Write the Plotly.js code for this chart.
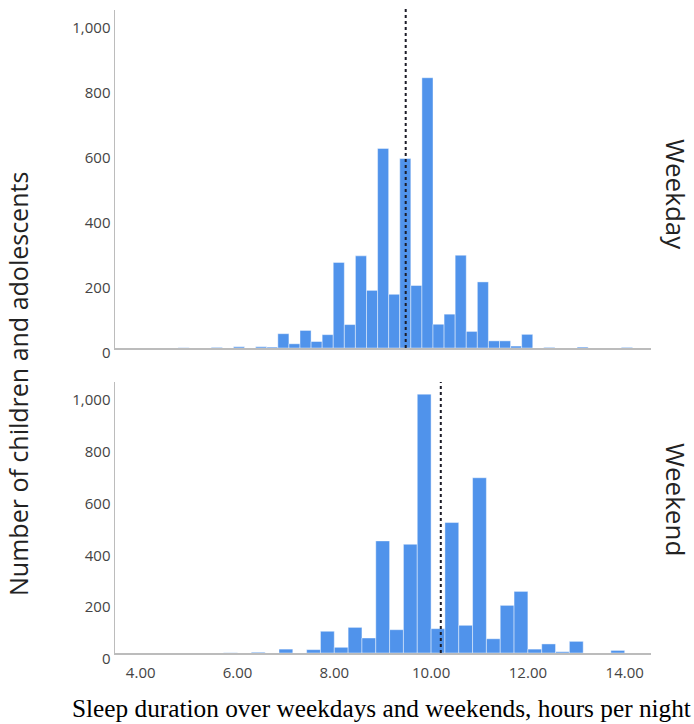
<!DOCTYPE html>
<html>
<head>
<meta charset="utf-8">
<script src="https://cdn.plot.ly/plotly-3.0.1.min.js"></script>
<style>html,body{margin:0;padding:0;background:#fff;}#chart{width:694px;height:724px;}</style>
</head>
<body>
<div id="chart"></div>
<script>
// ---- Data ----
// Weekday histogram: bins of equal width starting at weekdayBinStart (hours)
const weekdayBinStart = 4.772;
const weekdayBinWidth = 0.229;
const weekdayCounts = [1, 0, 0, 2, 0, 4, 0, 4, 3, 44, 13, 54, 20, 41, 263, 72, 283, 177, 613, 165, 582, 192, 830, 73, 104, 285, 51, 203, 22, 22, 6, 42, 0, 2, 0, 0, 3, 0, 0, 0, 2];
const weekdayMean = 9.475;

// Weekend histogram
const weekendBinStart = 5.714;
const weekendBinWidth = 0.2857;
const weekendCounts = [1, 0, 3, 0, 15, 0, 13, 84, 22, 99, 58, 433, 90, 420, 1000, 94, 504, 107, 677, 55, 184, 238, 15, 35, 5, 45, 0, 0, 10];
const weekendMean = 10.20;

const xTickVals = [4, 6, 8, 10, 12, 14];
const yTickVals = [0, 200, 400, 600, 800, 1000];

const panelLabels = ["Weekday", "Weekend"];
const yTitle = "Number of children and adolescents";
const xTitle = "Sleep duration over weekdays and weekends, hours per night";

// ---- Build traces ----
function centers(start, width, counts) {
  return counts.map((_, i) => start + (i + 0.5) * width);
}
const barColor = '#5093eb';
const barLine = {color: 'rgba(255,255,255,0.55)', width: 0.8};
const traces = [
  {
    type: 'bar', x: centers(weekdayBinStart, weekdayBinWidth, weekdayCounts), y: weekdayCounts,
    width: weekdayBinWidth, xaxis: 'x', yaxis: 'y',
    marker: {color: barColor, line: barLine}, hoverinfo: 'x+y'
  },
  {
    type: 'bar', x: centers(weekendBinStart, weekendBinWidth, weekendCounts), y: weekendCounts,
    width: weekendBinWidth, xaxis: 'x2', yaxis: 'y2',
    marker: {color: barColor, line: barLine}, hoverinfo: 'x+y'
  }
];

const axisLine = '#bcbcbc';
const tickFont = {family: 'Open Sans, sans-serif', size: 15, color: '#444'};
const xRange = [3.469, 14.543];
const labelFont = {family: 'Open Sans, sans-serif', size: 26, color: '#222'};

const layout = {
  width: 694, height: 724,
  margin: {l: 115, r: 43, t: 10, b: 71},
  paper_bgcolor: '#fff', plot_bgcolor: '#fff',
  showlegend: false, bargap: 0,
  xaxis: {domain: [0, 1], anchor: 'y', range: xRange, showline: true, linecolor: axisLine, linewidth: 1.5,
          showticklabels: false, ticks: '', showgrid: false, zeroline: false},
  yaxis: {domain: [0.4743, 1], anchor: 'x', range: [0, 1038], tickvals: yTickVals, tickformat: ',',
          showline: true, linecolor: axisLine, linewidth: 1.5, ticks: '', showgrid: false, zeroline: false,
          tickfont: tickFont, ticklabelshift: 5},
  xaxis2: {domain: [0, 1], anchor: 'y2', range: xRange, tickvals: xTickVals, tickformat: '.2f',
           showline: true, linecolor: axisLine, linewidth: 1.5, ticks: '', showgrid: false, zeroline: false,
           tickfont: tickFont, ticklabelstandoff: 5},
  yaxis2: {domain: [0, 0.4215], anchor: 'x2', range: [0, 1047], tickvals: yTickVals, tickformat: ',',
           showline: true, linecolor: axisLine, linewidth: 1.5, ticks: '', showgrid: false, zeroline: false,
           tickfont: tickFont, ticklabelshift: 6},
  shapes: [
    {type: 'line', xref: 'x', yref: 'y domain', x0: weekdayMean, x1: weekdayMean, y0: 0, y1: 1.01,
     line: {color: '#1c1c28', width: 2, dash: 'dot'}},
    {type: 'line', xref: 'x2', yref: 'y2 domain', x0: weekendMean, x1: weekendMean, y0: 0, y1: 1.0,
     line: {color: '#1c1c28', width: 2, dash: 'dot'}}
  ],
  annotations: [
    {text: yTitle, xref: 'paper', yref: 'paper', x: -0.181, y: 0.4184, textangle: -90, showarrow: false,
     xanchor: 'center', yanchor: 'middle', font: {family: 'Open Sans, sans-serif', size: 25, color: '#222'}},
    {text: panelLabels[0], xref: 'paper', yref: 'paper', x: 1.0466, y: 0.7123, textangle: 90, showarrow: false,
     xanchor: 'center', yanchor: 'middle', font: labelFont},
    {text: panelLabels[1], xref: 'paper', yref: 'paper', x: 1.0466, y: 0.238, textangle: 90, showarrow: false,
     xanchor: 'center', yanchor: 'middle', font: labelFont},
    {text: xTitle, xref: 'paper', yref: 'paper', x: 0.4963, y: -0.0855, showarrow: false,
     xanchor: 'center', yanchor: 'middle', font: {family: 'Liberation Serif, Times New Roman, serif', size: 25.3, color: '#000'}}
  ]
};

Plotly.newPlot('chart', traces, layout, {displayModeBar: false, staticPlot: true});
</script>
</body>
</html>
